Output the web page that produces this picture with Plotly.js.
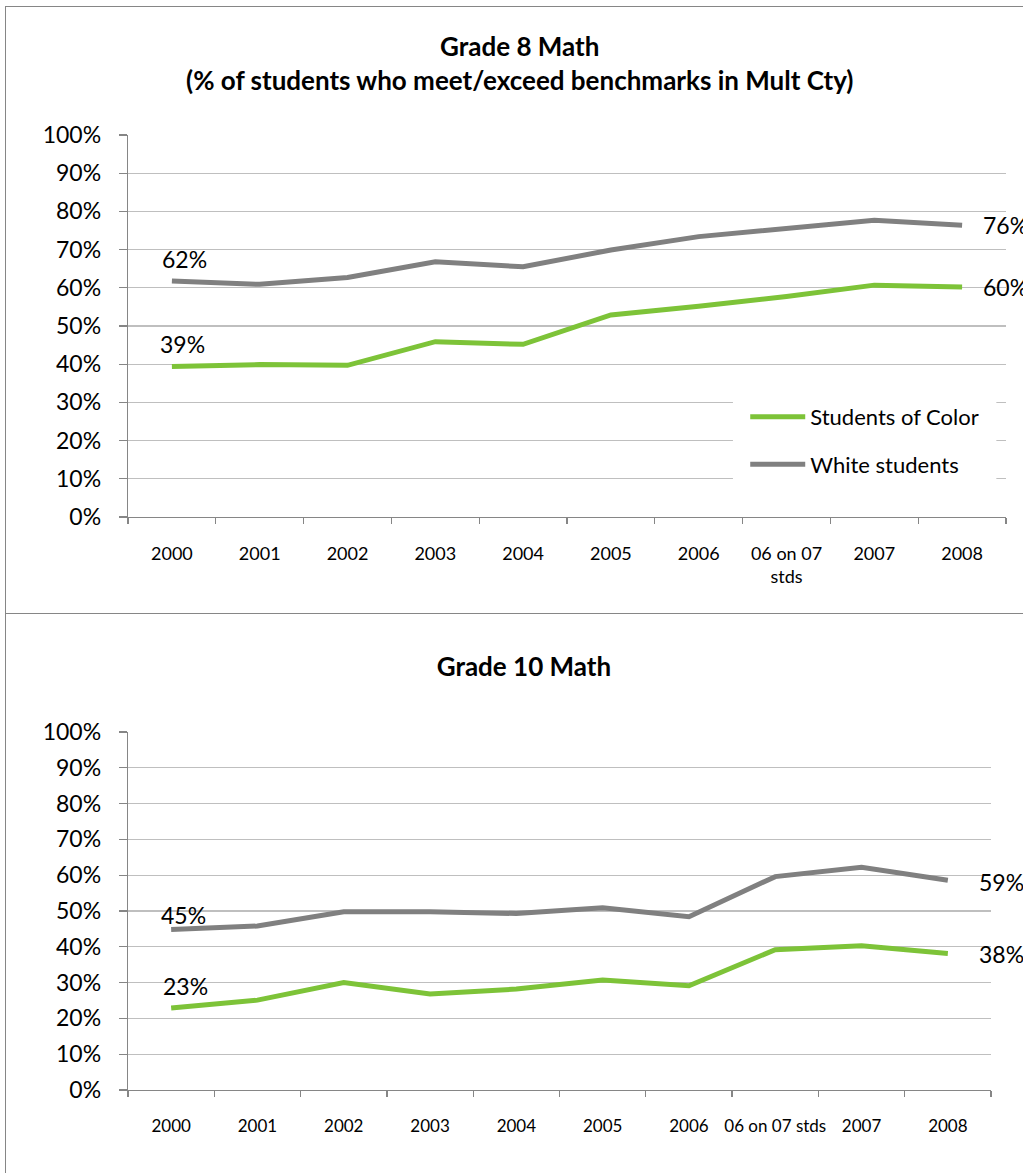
<!DOCTYPE html>
<html>
<head>
<meta charset="utf-8">
<script src="https://cdn.plot.ly/plotly-3.0.1.min.js"></script>
<style>
  html, body { margin:0; padding:0; background:#fff; overflow:hidden; width:1023px; height:1173px; }
  #g8 { position:absolute; left:5px; top:6px; width:1040px; height:606px; border:1px solid #868686; }
  #g10 { position:absolute; left:5px; top:614px; width:1040px; height:600px; border-left:1px solid #868686; }
</style>
</head>
<body>
<div id="g8"></div>
<div id="g10"></div>
<script>
// ---- data ----
const years8 = ['2000','2001','2002','2003','2004','2005','2006','06 on 07<br>stds','2007','2008'];
const years10 = ['2000','2001','2002','2003','2004','2005','2006','06 on 07 stds','2007','2008'];
const seriesNames = ['Students of Color', 'White students'];
const g8Color = [0.394, 0.399, 0.397, 0.459, 0.452, 0.529, 0.552, 0.577, 0.607, 0.602];
const g8White = [0.618, 0.609, 0.627, 0.668, 0.655, 0.699, 0.734, 0.757, 0.777, 0.764];
const g10Color = [0.229, 0.251, 0.300, 0.268, 0.282, 0.307, 0.291, 0.392, 0.403, 0.381];
const g10White = [0.448, 0.458, 0.498, 0.498, 0.493, 0.509, 0.484, 0.596, 0.622, 0.586];
const title8 = 'Grade 8 Math<br>(% of students who meet/exceed benchmarks in Mult Cty)';
const title10 = 'Grade 10 Math';

// ---- style ----
const GREEN = '#7DC338', GRAY = '#808080';
const AXIS = '#868686', GRID = '#BFBFBF';
const FONT = 'Lato, "Open Sans", sans-serif';

function pct(v){ return Math.round(v*100) + '%'; }

function yaxis(){
  return {
    range:[0,1], dtick:0.1, tick0:0, tickformat:'.0%',
    showgrid:true, gridcolor:GRID, gridwidth:1.3,
    showline:true, linecolor:AXIS, linewidth:1.3,
    ticks:'outside', ticklen:8, tickcolor:AXIS, tickwidth:1.3,
    tickfont:{family:FONT, size:23, color:'#000'},
    ticklabelstandoff:13,
    zeroline:false, fixedrange:true
  };
}
function xaxis(size){
  return {
    type:'category', tickson:'boundaries', tickangle:0,
    showgrid:false, showline:true, linecolor:AXIS, linewidth:1.3,
    ticks:'outside', ticklen:6, tickcolor:AXIS, tickwidth:1.3,
    tickfont:{family:FONT, size:size, color:'#000'},
    ticklabelstandoff:20,
    range:[-0.5, 9.5], zeroline:false, fixedrange:true
  };
}
// label the first and last point of a series (positions by category index on the axis)
function endLabels(ys, firstShift, lastShift){
  const n = ys.length;
  return [
    {x:0, y:ys[0], xref:'x', yref:'y', text:pct(ys[0]), showarrow:false,
     xanchor:'center', yanchor:'middle', xshift:firstShift[0], yshift:firstShift[1],
     font:{family:FONT, size:23, color:'#000'}},
    {x:n-1, y:ys[n-1], xref:'x', yref:'y', text:pct(ys[n-1]), showarrow:false,
     xanchor:'left', yanchor:'middle', xshift:lastShift[0], yshift:lastShift[1],
     font:{family:FONT, size:23, color:'#000'}}
  ];
}

// ---- Grade 8 ----
const traces8 = [
  {x:years8, y:g8Color, type:'scatter', mode:'lines', name:seriesNames[0], legendgroup:'a',
   line:{color:GREEN, width:5}, hoverinfo:'skip'},
  {x:years8, y:g8White, type:'scatter', mode:'lines', name:seriesNames[1], legendgroup:'b',
   line:{color:GRAY, width:5}, hoverinfo:'skip'}
];
const layout8 = {
  width:1040, height:606,
  margin:{l:122, r:40, t:128, b:96},
  paper_bgcolor:'#fff', plot_bgcolor:'#fff',
  title:{text:title8, xref:'container', yref:'container', x:0.494, y:0.919, xanchor:'center', yanchor:'middle',
         font:{family:FONT, size:26, weight:700, color:'#000'}},
  xaxis:xaxis(18), yaxis:yaxis(),
  showlegend:true,
  legend:{x:0.703, y:0.317, xanchor:'left', yanchor:'top', bgcolor:'rgba(0,0,0,0)', itemwidth:55,
          font:{family:FONT, size:22, color:'#000'}, traceorder:'grouped', tracegroupgap:16},
  shapes:[{type:'rect', xref:'paper', yref:'paper', x0:0.689, x1:0.989, y0:0.07, y1:0.33,
           fillcolor:'#fff', line:{width:0}, layer:'above'}],
  annotations: [].concat(
    endLabels(g8White, [13, 22], [19, 0]),
    endLabels(g8Color, [11, 22], [19, 0])
  )
};
Plotly.newPlot('g8', traces8, layout8, {staticPlot:true, displayModeBar:false});

// ---- Grade 10 ----
const traces10 = [
  {x:years10, y:g10Color, type:'scatter', mode:'lines', name:seriesNames[0], showlegend:false,
   line:{color:GREEN, width:5}, hoverinfo:'skip'},
  {x:years10, y:g10White, type:'scatter', mode:'lines', name:seriesNames[1], showlegend:false,
   line:{color:GRAY, width:5}, hoverinfo:'skip'}
];
const layout10 = {
  width:1040, height:600,
  margin:{l:122, r:55, t:118, b:124},
  paper_bgcolor:'#fff', plot_bgcolor:'#fff',
  title:{text:title10, xref:'container', yref:'container', x:0.498, y:0.912, xanchor:'center', yanchor:'middle',
         font:{family:FONT, size:26, weight:700, color:'#000'}},
  xaxis:xaxis(17), yaxis:yaxis(),
  showlegend:false,
  annotations: [].concat(
    endLabels(g10White, [12, 15], [29, -2]),
    endLabels(g10Color, [14, 22], [29, 0])
  )
};
Plotly.newPlot('g10', traces10, layout10, {staticPlot:true, displayModeBar:false});
</script>
</body>
</html>
